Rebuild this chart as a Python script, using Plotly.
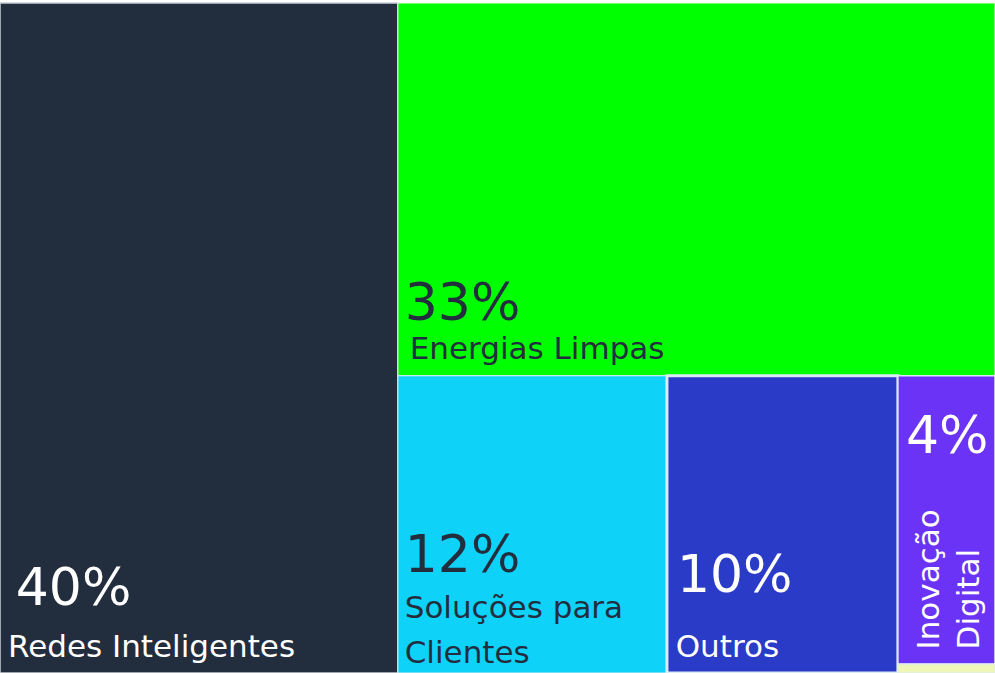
import plotly.graph_objects as go

labels = ["Redes Inteligentes", "Energias Limpas", "Soluções para Clientes", "Outros", "Inovação Digital", "Outras Áreas"]
values = [40, 33.4, 12, 10.3, 4.2, 0.13]
colors = ["#222e3d", "#00ff00", "#0ed2f8", "#2a3bc7", "#6b33f5", "#eef6b8"]
text_colors = ["#ffffff", "#222e3d", "#222e3d", "#ffffff", "#ffffff", "#222e3d"]
line_colors = ["#c9ced3", "#e8f5e8", "#d5eef5", "#dcecf5", "#dcecf5", "#dcecf5"]
line_widths = [1.5, 1, 1, 3, 1.5, 1]

FONT = "DejaVu Sans"
PCT = 52
LAB = 31


def sp(size):
    return "<span style='font-size:%dpx'> </span>" % size


def tmpl(lines, pct_indent, lab_indent, gap_steps, line_steps=7, lift=True):
    pct = sp(pct_indent) + "<span style='font-size:%dpx'>%%{value:.0f}%%</span>" % PCT
    body = ("<br>" * line_steps).join(
        sp(lab_indent) + "<span style='font-size:%dpx'>%s</span>" % (LAB, l) for l in lines)
    # blank lines set the spacing; the trailing line lifts the block off the bottom edge
    out = pct + "<br>" * gap_steps + body
    if lift:
        out += "<br>" + sp(28)
    return out


templates = [
    tmpl(["Redes Inteligentes"], 40, 16, 8),
    tmpl(["Energias Limpas"], 12, 28, 6),
    tmpl(["Soluções para", "Clientes"], 12, 12, 7, 7, lift=False),
    tmpl(["Outros"], 22, 18, 10),
    "",
    "",
]

fig = go.Figure(go.Treemap(
    labels=labels,
    parents=[""] * len(labels),
    values=values,
    texttemplate=templates,
    textposition="bottom left",
    textfont=dict(family=FONT, size=5, color=text_colors),
    marker=dict(colors=colors, line=dict(color=line_colors, width=line_widths),
                pad=dict(t=0, l=0, r=0, b=0)),
    pathbar=dict(visible=False),
    sort=True,
    tiling=dict(packing="squarify", pad=0),
    hoverinfo="label+value",
))

fig.add_annotation(
    text="4%", x=0.9085, y=0.355, xref="paper", yref="paper",
    xanchor="left", yanchor="middle", showarrow=False,
    font=dict(family=FONT, size=PCT, color="#ffffff"),
)
fig.add_annotation(
    text="Inovação<br>Digital", x=0.953, y=0.14, xref="paper", yref="paper",
    xanchor="center", yanchor="middle", showarrow=False, textangle=-90, align="left",
    font=dict(family=FONT, size=LAB, color="#ffffff"),
)

fig.update_layout(
    width=995, height=673,
    margin=dict(l=0, r=0, t=3, b=0),
    paper_bgcolor="#ffffff",
    showlegend=False,
)

fig.write_html(
    "out.html",
    config={"displayModeBar": False},
    post_script="document.body.style.margin='0';document.body.style.overflow='hidden';document.documentElement.style.overflow='hidden';",
)
